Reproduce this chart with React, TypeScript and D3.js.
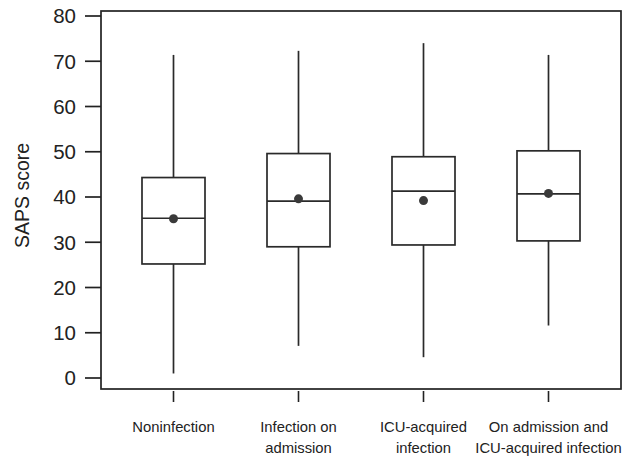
import React from "react";
import * as d3 from "d3";

const categories: string[][] = [
  ["Noninfection"],
  ["Infection on", "admission"],
  ["ICU-acquired", "infection"],
  ["On admission and", "ICU-acquired infection"],
];
const whiskerLow = [1.0, 7.1, 4.6, 11.6];
const q1 = [25.2, 29.0, 29.4, 30.3];
const medians = [35.3, 39.1, 41.3, 40.7];
const q3 = [44.3, 49.6, 48.9, 50.2];
const whiskerHigh = [71.4, 72.3, 74.0, 71.4];
const means = [35.2, 39.6, 39.2, 40.8];
const yTicks = [0, 10, 20, 30, 40, 50, 60, 70, 80];
const yLabel = "SAPS score";

const W = 644;
const H = 458;
const left = 101;
const right = 621;
const top = 11;
const bottom = 389;

export default function App() {
  const keys = categories.map((c) => c.join(" "));
  const x = d3.scalePoint<string>().domain(keys).range([left, right]).padding(0.58);
  const y = d3.scaleLinear().domain([0, 80]).range([378, 16]);
  const boxW = 63;
  const stroke = "#2a2a2a";
  const font = "Liberation Sans, Arial, Helvetica, sans-serif";

  return (
    <svg
      width={W}
      height={H}
      style={{ position: "absolute", left: 0, top: 0, background: "#fff" }}
      fontFamily={font}
    >
      <rect x={0} y={0} width={W} height={H} fill="#fff" />
      {/* frame */}
      <rect
        x={left}
        y={top}
        width={right - left}
        height={bottom - top}
        fill="none"
        stroke="#222"
        strokeWidth={1.7}
      />
      {/* y ticks */}
      {yTicks.map((t) => (
        <g key={t}>
          <line x1={85} x2={left} y1={y(t)} y2={y(t)} stroke="#222" strokeWidth={1.7} />
          <text
            x={76}
            y={y(t)}
            dy="0.36em"
            textAnchor="end"
            fontSize={20.5}
            fill="#222"
          >
            {t}
          </text>
        </g>
      ))}
      <text
        transform={`translate(22,${(y(0) + y(80)) / 2 - 1.5}) rotate(-90)`}
        textAnchor="middle"
        fontSize={19.5}
        fill="#222"
        dy="0.36em"
      >
        {yLabel}
      </text>
      {/* x ticks and labels */}
      {categories.map((c, i) => {
        const cx = x(keys[i])!;
        return (
          <g key={i}>
            <line x1={cx} x2={cx} y1={391} y2={402} stroke="#222" strokeWidth={1.6} />
            {c.map((line, j) => (
              <text
                key={j}
                x={cx}
                y={432 + j * 20.5}
                textAnchor="middle"
                fontSize={14.8}
                fill="#222"
              >
                {line}
              </text>
            ))}
          </g>
        );
      })}
      {/* boxes */}
      {categories.map((c, i) => {
        const cx = x(keys[i])!;
        return (
          <g key={"b" + i} stroke={stroke} strokeWidth={1.7} fill="none">
            <line x1={cx} x2={cx} y1={y(whiskerHigh[i])} y2={y(q3[i])} />
            <line x1={cx} x2={cx} y1={y(q1[i])} y2={y(whiskerLow[i])} />
            <rect
              x={cx - boxW / 2}
              y={y(q3[i])}
              width={boxW}
              height={y(q1[i]) - y(q3[i])}
            />
            <line x1={cx - boxW / 2} x2={cx + boxW / 2} y1={y(medians[i])} y2={y(medians[i])} />
            <circle cx={cx} cy={y(means[i])} r={4.5} fill="#3a3a3a" stroke="none" />
          </g>
        );
      })}
    </svg>
  );
}
